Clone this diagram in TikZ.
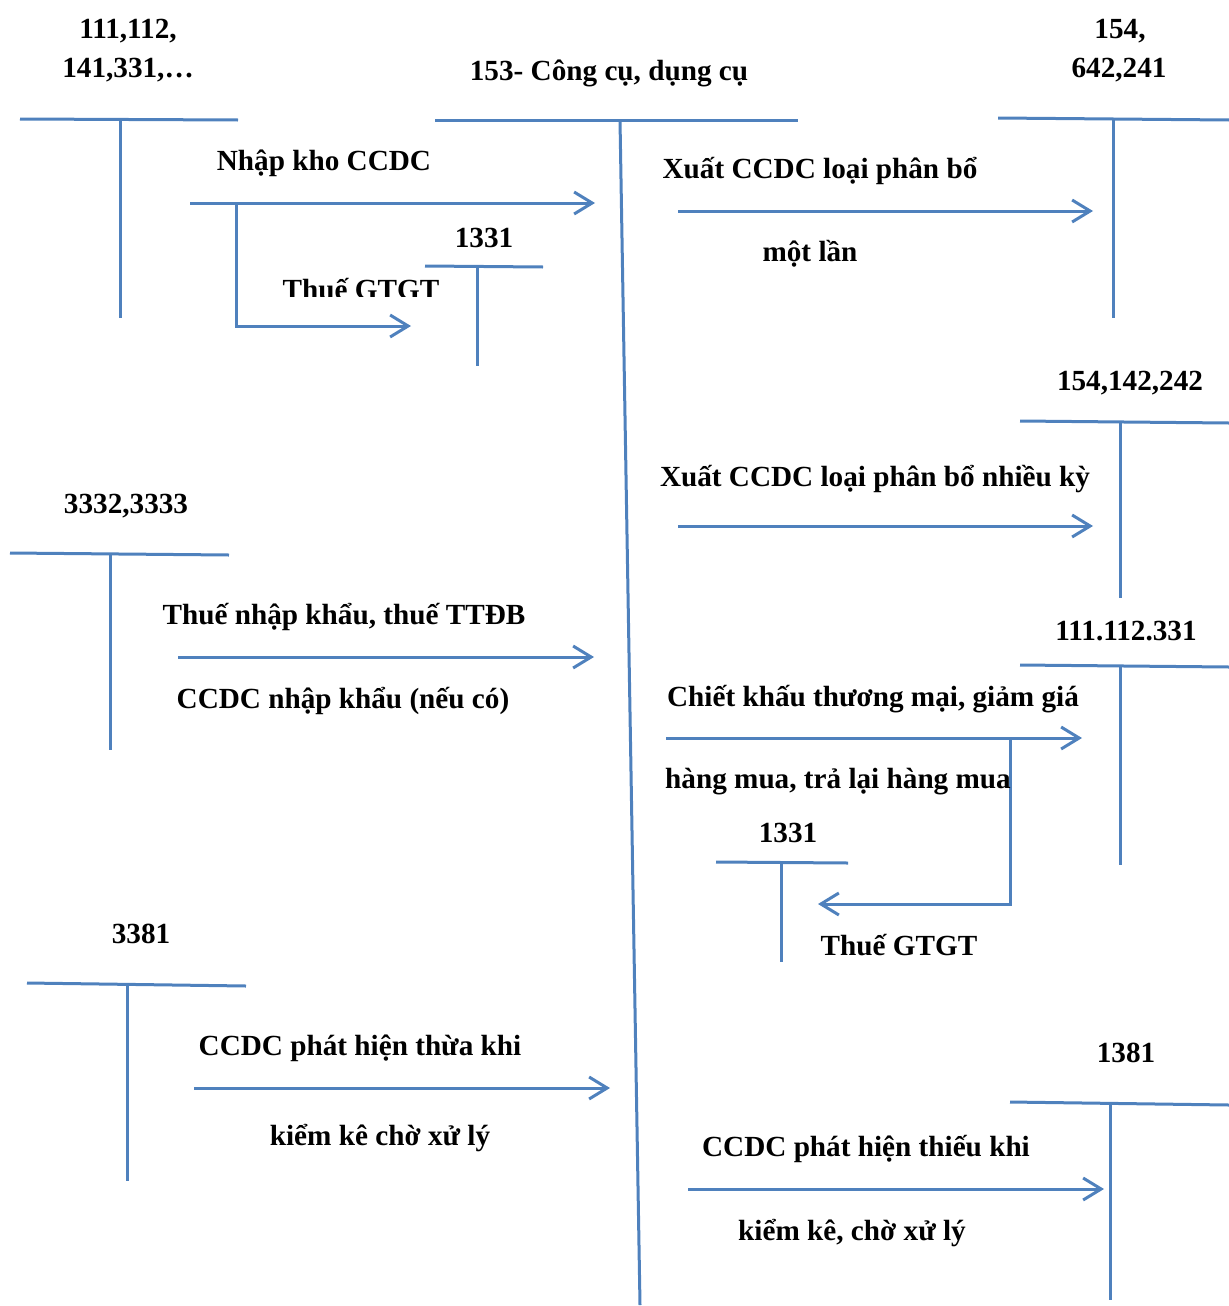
\documentclass[tikz,border=0pt]{standalone}
\usepackage{fontspec}
\setmainfont{Liberation Serif}
\usetikzlibrary{positioning,arrows.meta}
\definecolor{acctblue}{HTML}{4F81BD}

\begin{document}
\begin{tikzpicture}[
    x=0.5pt, y=-0.5pt,
    tline/.style={line width=1.5pt, draw=acctblue},
    flow/.style={line width=1.5pt, draw=acctblue, -{Straight Barb[length=9pt,width=11pt,line width=1.5pt]}},
    lbl/.style={anchor=base, inner sep=0pt, font=\fontsize{14.6}{17}\selectfont\bfseries}
]
    \useasboundingbox (0,0) rectangle (1229,1306);

    % T-account 153 (centre, slanted stem)
    \coordinate (cL) at (435,120); \coordinate (cR) at (798,120);
    \coordinate (cT) at (620,120); \coordinate (cB) at (640,1305);
    \draw[tline] (cL) -- (cR);
    \draw[tline] (cT) -- (cB);
    \node[lbl] (acc153) at (609,80) {153- Công cụ, dụng cụ};

    % T-account 111,112,141,331
    \coordinate (aL) at (20,119); \coordinate (aR) at (238,120);
    \coordinate (aT) at (120,120); \coordinate (aB) at (120,318);
    \draw[tline] (aL) -- (aR);
    \draw[tline] (aT) -- (aB);
    \node[lbl] (acc111a) at (128,39) {111,112,};
    \node[lbl] (acc111b) at (128,77) {141,331,…};

    % T-account 154,642,241
    \coordinate (bL) at (998,118); \coordinate (bR) at (1229,120);
    \coordinate (bT) at (1113,120); \coordinate (bB) at (1113,318);
    \draw[tline] (bL) -- (bR);
    \draw[tline] (bT) -- (bB);
    \node[lbl] (acc154a) at (1120,39) {154,};
    \node[lbl] (acc154b) at (1119,77) {642,241};

    % Nhap kho + thue GTGT branch
    \coordinate (n1s) at (190,203); \coordinate (n1e) at (595,203);
    \coordinate (n1k) at (236,203); \coordinate (n1c) at (236,326);
    \coordinate (n1v) at (411,326);
    \draw[flow] (n1s) -- (n1e);
    \draw[flow] (n1k) -- (n1c) -- (n1v);
    \node[lbl] (nhap) at (324,170) {Nhập kho CCDC};
    \begin{scope}
        \clip (250,255) rectangle (470,296);
        \node[lbl] (thue1) at (361,299) {Thuế GTGT};
    \end{scope}

    % T-account 1331 (upper)
    \coordinate (dL) at (425,266); \coordinate (dR) at (543,267);
    \coordinate (dT) at (477,267); \coordinate (dB) at (477,366);
    \draw[tline] (dL) -- (dR);
    \draw[tline] (dT) -- (dB);
    \node[lbl] (acc1331a) at (484,247) {1331};

    % Xuat CCDC phan bo mot lan
    \coordinate (x1s) at (678,211); \coordinate (x1e) at (1093,211);
    \draw[flow] (x1s) -- (x1e);
    \node[lbl] (xuat1a) at (820,178) {Xuất CCDC loại phân bổ};
    \node[lbl] (xuat1b) at (810,261) {một lần};

    % T-account 154,142,242
    \coordinate (eL) at (1020,421); \coordinate (eR) at (1229,423);
    \coordinate (eT) at (1120,423); \coordinate (eB) at (1120,598);
    \draw[tline] (eL) -- (eR);
    \draw[tline] (eT) -- (eB);
    \node[lbl] (acc154c) at (1130,390) {154,142,242};

    % Xuat CCDC phan bo nhieu ky
    \coordinate (x2s) at (678,526); \coordinate (x2e) at (1093,526);
    \draw[flow] (x2s) -- (x2e);
    \node[lbl] (xuat2) at (875,486) {Xuất CCDC loại phân bổ nhiều kỳ};

    % T-account 3332,3333
    \coordinate (fL) at (10,553); \coordinate (fR) at (229,555);
    \coordinate (fT) at (110,555); \coordinate (fB) at (110,750);
    \draw[tline] (fL) -- (fR);
    \draw[tline] (fT) -- (fB);
    \node[lbl] (acc3332) at (126,513) {3332,3333};

    % Thue nhap khau
    \coordinate (t1s) at (178,657); \coordinate (t1e) at (594,657);
    \draw[flow] (t1s) -- (t1e);
    \node[lbl] (thuenk) at (344,624) {Thuế nhập khẩu, thuế TTĐB};
    \node[lbl] (ccdcnk) at (343,708) {CCDC nhập khẩu (nếu có)};

    % T-account 111.112.331
    \coordinate (gL) at (1020,665); \coordinate (gR) at (1229,667);
    \coordinate (gT) at (1120,667); \coordinate (gB) at (1120,865);
    \draw[tline] (gL) -- (gR);
    \draw[tline] (gT) -- (gB);
    \node[lbl] (acc111c) at (1126,640) {111.112.331};

    % Chiet khau + thue GTGT branch
    \coordinate (c1s) at (666,738); \coordinate (c1e) at (1082,738);
    \coordinate (c1k) at (1010,738); \coordinate (c1c) at (1010,904);
    \coordinate (c1v) at (818,904);
    \draw[flow] (c1s) -- (c1e);
    \draw[flow] (c1k) -- (c1c) -- (c1v);
    \node[lbl] (chiet1) at (873,706) {Chiết khấu thương mại, giảm giá};
    \node[lbl] (chiet2) at (838,788) {hàng mua, trả lại hàng mua};
    \node[lbl] (thue2) at (899,955) {Thuế GTGT};

    % T-account 1331 (lower)
    \coordinate (hL) at (716,862); \coordinate (hR) at (848,863);
    \coordinate (hT) at (781,863); \coordinate (hB) at (781,962);
    \draw[tline] (hL) -- (hR);
    \draw[tline] (hT) -- (hB);
    \node[lbl] (acc1331b) at (788,842) {1331};

    % T-account 3381
    \coordinate (iL) at (27,983); \coordinate (iR) at (246,986);
    \coordinate (iT) at (127,986); \coordinate (iB) at (127,1181);
    \draw[tline] (iL) -- (iR);
    \draw[tline] (iT) -- (iB);
    \node[lbl] (acc3381) at (141,943) {3381};

    % Phat hien thua
    \coordinate (p1s) at (194,1088); \coordinate (p1e) at (610,1088);
    \draw[flow] (p1s) -- (p1e);
    \node[lbl] (thua1) at (360,1055) {CCDC phát hiện thừa khi};
    \node[lbl] (thua2) at (380,1145) {kiểm kê chờ xử lý};

    % T-account 1381
    \coordinate (jL) at (1010,1102); \coordinate (jR) at (1229,1105);
    \coordinate (jT) at (1110,1105); \coordinate (jB) at (1110,1300);
    \draw[tline] (jL) -- (jR);
    \draw[tline] (jT) -- (jB);
    \node[lbl] (acc1381) at (1126,1062) {1381};

    % Phat hien thieu
    \coordinate (p2s) at (688,1189); \coordinate (p2e) at (1104,1189);
    \draw[flow] (p2s) -- (p2e);
    \node[lbl] (thieu1) at (866,1156) {CCDC phát hiện thiếu khi};
    \node[lbl] (thieu2) at (852,1240) {kiểm kê, chờ xử lý};
\end{tikzpicture}
\end{document}
